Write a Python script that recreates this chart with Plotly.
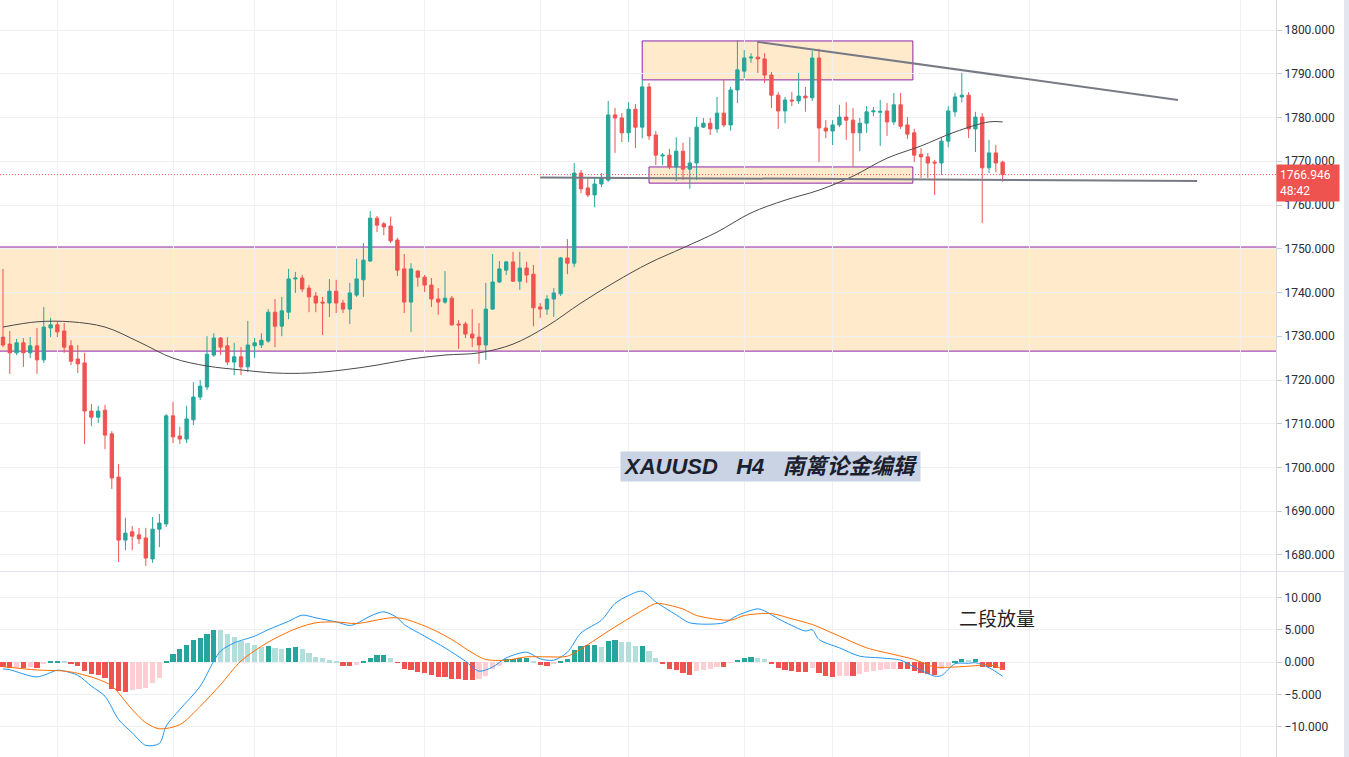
import plotly.graph_objects as go

# ---------------- data ----------------
open_ = [1729.8,1728.2,1726.2,1728.5,1726.2,1727.8,1724.6,1731.9,1732.6,1731.2,
         1727.8,1724.8,1723.9,1712.9,1711.5,1713.1,1707.7,1697.8,1683.4,1685.3,
         1684.6,1683.9,1679.1,1685.9,1687.1,1711.8,1707.2,1706.5,1710.9,1716.1,
         1718.4,1725.7,1729.6,1727.8,1724.1,1725.3,1723.0,1727.8,1728.0,1728.9,
         1735.5,1732.3,1735.5,1743.1,1743.3,1741.0,1739.2,1737.8,1737.6,1740.3,
         1737.6,1736.2,1739.4,1742.9,1747.2,1757.0,1755.7,1755.2,1752.0,1745.4,
         1737.8,1744.9,1743.5,1741.7,1738.5,1737.8,1738.7,1732.8,1732.8,1730.5,
         1729.8,1728.0,1736.2,1742.4,1745.1,1747.0,1742.6,1745.6,1744.2,1736.7,
         1736.2,1738.5,1739.7,1747.9,1746.7,1767.3,1763.9,1762.3,1764.8,1765.7,
         1780.6,1779.9,1776.5,1781.9,1777.8,1787.0,1776.0,1771.2,1771.4,1768.7,
         1772.3,1768.2,1769.6,1777.8,1778.7,1777.4,1781.0,1778.3,1786.3,1790.6,
         1793.6,1793.8,1793.4,1789.7,1785.1,1781.5,1784.0,1783.8,1784.9,1784.5,
         1793.6,1777.6,1776.9,1778.3,1780.1,1779.4,1776.5,1778.7,1781.3,1781.2,
         1781.5,1779.0,1782.9,1778.3,1776.5,1771.6,1771.0,1769.8,1769.6,1774.6,
         1781.3,1784.7,1785.1,1777.4,1780.1,1768.5,1771.9,1769.8]
high_ = [1745.4,1731.2,1729.4,1729.6,1729.8,1731.9,1736.7,1734.2,1733.3,1733.0,
         1729.1,1728.0,1726.2,1714.5,1714.1,1714.3,1708.3,1700.8,1688.5,1686.6,
         1686.2,1686.2,1688.7,1689.4,1712.2,1715.0,1709.3,1714.1,1719.5,1720.0,
         1730.0,1730.7,1729.8,1729.8,1728.5,1727.5,1733.5,1729.6,1730.7,1736.2,
         1738.5,1739.0,1745.4,1744.7,1744.0,1741.7,1740.1,1739.0,1743.1,1742.9,
         1738.3,1742.2,1747.7,1751.3,1758.6,1757.5,1756.1,1757.3,1752.5,1748.8,
         1746.7,1745.1,1744.0,1743.3,1741.0,1744.9,1739.2,1733.7,1733.3,1736.2,
         1733.0,1742.2,1748.8,1747.2,1747.2,1749.3,1749.3,1747.0,1746.3,1737.6,
         1739.4,1741.0,1748.1,1752.2,1769.6,1768.0,1766.4,1766.4,1767.3,1783.8,
         1782.2,1781.0,1783.5,1783.1,1788.6,1787.9,1776.9,1771.9,1772.8,1775.5,
         1774.2,1775.5,1780.1,1779.9,1779.9,1784.7,1788.6,1787.0,1797.7,1795.4,
         1794.7,1797.3,1794.7,1790.4,1785.8,1784.7,1785.8,1790.2,1787.0,1795.2,
         1795.7,1779.4,1779.4,1782.9,1783.5,1782.2,1779.9,1782.6,1782.4,1784.0,
         1783.3,1785.6,1785.6,1780.1,1777.4,1773.0,1771.9,1770.3,1775.5,1782.6,
         1785.6,1790.2,1785.8,1781.3,1781.0,1774.9,1773.7,1770.1]
low_ = [1727.5,1721.4,1725.7,1723.0,1725.0,1721.4,1723.9,1729.8,1729.8,1726.2,
        1723.4,1721.6,1705.4,1709.5,1710.2,1704.2,1695.1,1678.4,1681.1,1681.1,
        1682.5,1677.5,1678.2,1681.8,1686.4,1705.6,1705.4,1705.6,1709.7,1715.4,
        1717.7,1725.3,1725.7,1723.4,1721.1,1721.1,1721.8,1725.0,1727.3,1728.5,
        1727.5,1730.0,1733.9,1739.9,1740.1,1735.5,1735.5,1730.3,1734.4,1735.3,
        1735.3,1732.8,1739.0,1739.0,1747.0,1753.8,1753.1,1751.3,1743.8,1735.3,
        1731.0,1741.3,1740.1,1736.7,1734.9,1737.4,1732.4,1727.1,1729.6,1727.5,
        1723.7,1724.6,1736.0,1742.2,1744.0,1742.4,1740.6,1742.2,1732.3,1734.2,
        1734.9,1734.4,1739.2,1744.2,1745.8,1762.7,1761.8,1759.5,1764.1,1765.3,
        1771.9,1774.4,1774.4,1773.0,1775.3,1774.9,1769.1,1769.1,1768.2,1765.5,
        1765.7,1763.7,1765.7,1777.6,1776.0,1776.5,1777.8,1777.0,1783.3,1789.0,
        1792.5,1790.2,1787.9,1782.2,1777.4,1778.7,1782.6,1783.1,1781.3,1783.8,
        1769.8,1775.3,1773.7,1777.8,1774.9,1768.9,1772.3,1776.5,1780.3,1773.5,
        1775.8,1778.3,1777.4,1775.1,1769.8,1766.2,1766.2,1762.3,1766.9,1773.2,
        1780.2,1783.5,1775.3,1772.1,1755.9,1767.3,1767.5,1765.3]
close_ = [1728.0,1726.2,1728.5,1726.2,1727.8,1724.6,1732.1,1732.6,1731.0,1727.5,
          1724.3,1723.7,1712.9,1711.5,1712.9,1707.4,1697.6,1683.4,1685.0,1684.3,
          1683.7,1679.3,1685.9,1687.3,1711.8,1707.0,1706.5,1711.1,1716.1,1718.6,
          1725.9,1729.6,1727.5,1724.1,1725.3,1723.0,1728.0,1728.5,1729.1,1735.5,
          1732.3,1735.8,1743.1,1743.3,1740.8,1739.0,1737.6,1737.6,1740.3,1737.6,
          1736.2,1739.9,1743.1,1747.4,1757.0,1755.4,1755.0,1751.8,1745.1,1737.8,
          1745.4,1743.5,1741.7,1738.5,1737.8,1738.7,1732.6,1732.6,1730.5,1729.6,
          1728.0,1736.2,1742.4,1745.4,1747.0,1742.6,1745.6,1744.0,1736.5,1736.2,
          1738.5,1739.9,1747.9,1746.7,1767.3,1763.7,1762.3,1764.8,1766.2,1780.6,
          1779.9,1776.5,1781.9,1777.8,1787.0,1775.8,1771.4,1771.4,1768.7,1772.3,
          1768.2,1769.6,1777.8,1778.7,1777.4,1781.0,1778.3,1786.3,1790.9,1793.6,
          1793.8,1793.4,1789.7,1785.1,1781.5,1784.0,1783.8,1784.9,1784.5,1793.6,
          1777.6,1776.9,1778.3,1780.1,1779.4,1776.5,1778.7,1781.3,1781.5,1781.4,
          1779.0,1782.9,1778.0,1776.2,1771.4,1771.0,1769.6,1769.6,1774.6,1781.5,
          1784.7,1785.1,1777.4,1780.1,1768.5,1771.9,1769.6,1766.946]

# moving average (sampled at candle indices)
ma_idx = [0,5,10,15,20,25,30,35,40,45,50,55,60,65,70,75,80,85,90,95,
          100,105,110,115,120,125,130,135,140,145,147]
ma_val = [1732.1,1733.3,1733.3,1732.1,1728.7,1725.0,1723.2,1722.3,1721.6,1721.6,
          1722.3,1723.4,1724.8,1725.7,1726.2,1728.2,1732.3,1737.6,1742.4,1746.7,
          1750.2,1753.8,1758.2,1761.1,1763.4,1766.6,1770.7,1773.5,1776.7,1779.0,1779.0]

# MACD histogram (one value per candle)
hist = [-0.72,-0.88,-0.85,-0.98,-0.72,-0.98,-0.36,0.15,0.2,0.05,
        -0.36,-0.62,-1.4,-1.9,-2.06,-2.4,-4.2,-4.5,-4.6,-4.3,
        -4.1,-3.97,-3.2,-2.5,0.05,1.2,1.96,2.7,3.35,3.76,
        4.4,4.95,4.9,4.4,3.9,3.25,3.0,2.7,2.37,2.47,
        2.1,1.96,2.2,2.25,1.96,1.44,0.82,0.57,0.26,0.05,
        -0.62,-0.65,-0.41,0.1,0.67,1.03,1.05,0.67,-0.05,-1.13,
        -1.24,-1.55,-1.75,-2.06,-2.32,-2.34,-2.58,-2.6,-2.78,-2.8,
        -2.68,-2.16,-1.13,-0.62,0.41,0.52,0.57,0.6,0.1,-0.52,
        -0.55,-0.36,0.15,0.41,1.8,2.47,2.63,2.65,2.37,3.25,
        3.35,3.1,3.05,2.45,2.5,1.7,0.57,-0.26,-1.03,-1.24,
        -1.7,-2.0,-1.4,-1.24,-1.13,-0.72,-0.75,-0.1,0.31,0.67,
        0.82,0.67,0.41,-0.2,-0.88,-1.24,-1.4,-1.5,-1.55,-0.88,
        -1.65,-2.16,-2.32,-2.16,-2.12,-2.18,-1.9,-1.55,-1.4,-1.24,
        -1.13,-1.03,-1.06,-1.13,-1.4,-1.75,-1.9,-1.95,-1.13,-0.62,
        0.15,0.52,0.31,0.41,-0.72,-0.74,-0.88,-1.24]

# MACD line (blue) and signal (orange), sampled
macd_idx = [0,1,5,8,9,11,13,15,17,19,21,23,24,26,29,31,32,34,37,39,42,44,46,49,
            51,52,54,56,58,59,62,65,68,70,72,74,77,79,81,83,85,88,90,92,94,96,99,
            101,106,108,111,112,114,116,118,119,120,123,126,129,132,134,137,138,
            140,142,143,145,147]
macd_val = [-1.06,-1.2,-2.3,-1.27,-1.4,-2.06,-3.74,-5.3,-8.9,-10.96,-12.9,-12.6,-9.9,
            -7.35,-3.74,0.15,1.7,2.96,4.0,5.0,6.3,7.25,6.84,6.2,
            5.65,5.96,7.1,7.77,6.84,5.8,4.0,2.19,0.13,-1.42,-0.77,0.64,1.52,0.49,
            0.28,1.52,4.5,6.47,9.05,10.3,10.96,9.3,7.3,
            6.06,6.06,7.2,8.23,7.9,6.7,5.65,4.8,5.0,3.48,2.19,0.9,0.64,0.28,-0.77,
            -2.19,-2.1,-0.26,-0.2,-0.1,-0.88,-2.2]
sig_idx = [0,5,9,11,14,16,19,21,23,26,29,32,35,39,43,46,49,52,57,59,63,66,69,71,
           74,77,80,83,86,89,93,96,97,100,102,107,109,113,116,119,123,127,131,134,
           137,140,143,145,147]
sig_val = [-0.72,-1.23,-1.4,-1.75,-2.68,-3.7,-7.35,-9.4,-10.34,-9.7,-6.86,-3.5,0.15,
           3.07,5.13,6.07,6.2,5.96,6.84,6.68,5.13,3.48,1.42,0.39,
           0.28,0.8,0.8,0.9,2.7,4.77,7.35,9.05,9.0,8.2,7.2,6.47,7.2,7.5,6.68,5.8,
           4.0,2.19,1.16,0.39,-0.77,-0.77,-0.57,-0.41,-1.08]

# vertical grid positions (candle indices)
grid_idx = [8, 25, 37, 49, 62, 79, 92, 109, 122, 139, 151, 182]

# drawings (candle index / price)
band_top, band_bot = 1750.4, 1726.6
box_hi = (94.0, 133.8, 1797.5, 1788.6)
box_lo = (95.0, 133.8, 1768.7, 1765.0)
trend_hi = (110.9, 1797.3, 172.8, 1784.0)
trend_lo = (79.0, 1766.3, 175.6, 1765.5)
last_price = 1766.946

# ---------------- styling ----------------
UP, DN = "#26a69a", "#ef5350"
UP_L, DN_L = "#b2dfdb", "#ffcdd2"
GRID = "#eef0f4"
XMIN, XMAX = -0.44, 187.2
TICKFONT = dict(family="Roboto, Open Sans, sans-serif", size=12, color="#2a2e39")

idx = list(range(len(open_)))

hcol = []
prev = None
for v in hist:
    if v >= 0:
        hcol.append(UP if (prev is None or v >= prev) else UP_L)
    else:
        hcol.append(DN if (prev is None or v < prev) else DN_L)
    prev = v

fig = go.Figure()

fig.add_trace(go.Candlestick(
    x=idx, open=open_, high=high_, low=low_, close=close_,
    increasing=dict(line=dict(color=UP, width=1), fillcolor=UP),
    decreasing=dict(line=dict(color=DN, width=1), fillcolor=DN),
    whiskerwidth=0, xaxis="x", yaxis="y", hoverinfo="skip", showlegend=False))

fig.add_trace(go.Scatter(
    x=ma_idx, y=ma_val, mode="lines", xaxis="x", yaxis="y",
    line=dict(color="#4a4a4a", width=1, shape="spline", smoothing=1.0),
    hoverinfo="skip", showlegend=False))

fig.add_trace(go.Bar(
    x=idx, y=hist, marker=dict(color=hcol, line=dict(width=0)), width=0.78,
    xaxis="x", yaxis="y2", hoverinfo="skip", showlegend=False))

fig.add_trace(go.Scatter(
    x=macd_idx, y=macd_val, mode="lines", xaxis="x", yaxis="y2",
    line=dict(color="#2196f3", width=1, shape="spline", smoothing=0.8),
    hoverinfo="skip", showlegend=False))
fig.add_trace(go.Scatter(
    x=sig_idx, y=sig_val, mode="lines", xaxis="x", yaxis="y2",
    line=dict(color="#ff6d00", width=1, shape="spline", smoothing=0.8),
    hoverinfo="skip", showlegend=False))

shapes = []
ORANGE = "rgba(255,152,0,0.2)"
PURPLE = "#8e24aa"
# wide zone: fill plus top/bottom edges only
shapes.append(dict(type="rect", xref="x", yref="y", x0=XMIN, x1=XMAX,
                   y0=band_bot, y1=band_top, fillcolor=ORANGE,
                   line=dict(width=0), layer="below"))
for yv in (band_top, band_bot):
    shapes.append(dict(type="line", xref="x", yref="y", x0=XMIN, x1=XMAX,
                       y0=yv, y1=yv, line=dict(color=PURPLE, width=1), layer="below"))
for (a, b, c, d) in (box_hi, box_lo):
    shapes.append(dict(type="rect", xref="x", yref="y", x0=a, x1=b, y0=d, y1=c,
                       fillcolor=ORANGE, line=dict(color=PURPLE, width=1), layer="below"))
for (a, b, c, d) in (trend_hi, trend_lo):
    shapes.append(dict(type="line", xref="x", yref="y", x0=a, y0=b, x1=c, y1=d,
                       line=dict(color="#787b86", width=2), layer="above"))
shapes.append(dict(type="line", xref="x", yref="y", x0=XMIN, x1=XMAX,
                   y0=last_price, y1=last_price,
                   line=dict(color=DN, width=1, dash="1px,2px"), layer="above"))
# pane separator
shapes.append(dict(type="line", xref="paper", yref="paper", x0=0, x1=1349/1276,
                   y0=1-571.5/757, y1=1-571.5/757,
                   line=dict(color="#dfe2ea", width=1)))
# right edge strip
shapes.append(dict(type="rect", xref="paper", yref="paper", x0=1344/1276, x1=1349/1276,
                   y0=0, y1=1, fillcolor="#e3e6ee", line=dict(width=0)))

annotations = [
    dict(xref="x", yref="y", x=112.9, y=1700.3,
         text="<b><i>XAUUSD\u00a0\u00a0\u00a0H4\u00a0\u00a0\u00a0南篱论金编辑</i></b>",
         showarrow=False, bgcolor="#c9d3e4", borderpad=2,
         font=dict(family="Liberation Sans, Noto Sans CJK SC", size=22, color="#1b1f2e")),
    dict(xref="x", yref="y2", x=146.2, y=6.9, text="二段放量", showarrow=False,
         font=dict(family="Noto Sans CJK SC", size=19, color="#222222")),
    dict(xref="paper", yref="y", x=1.0, xanchor="left", y=1765.0, yanchor="middle",
         text="1766.946<br>48:42", showarrow=False, align="left", bgcolor=DN,
         borderpad=3, width=56,
         font=dict(family="Roboto, Open Sans, sans-serif", size=12, color="white")),
]

fig.update_layout(
    width=1349, height=757, margin=dict(l=0, r=73, t=0, b=0),
    paper_bgcolor="white", plot_bgcolor="white", showlegend=False,
    bargap=0, shapes=shapes, annotations=annotations,
    xaxis=dict(range=[XMIN, XMAX], anchor="y2", showticklabels=False,
               tickmode="array", tickvals=grid_idx, ticks="",
               showgrid=True, gridcolor=GRID, gridwidth=1, zeroline=False,
               showline=False, rangeslider=dict(visible=False), fixedrange=True),
    yaxis=dict(domain=[1-571/757, 1], range=[1676.34, 1806.86], side="right",
               anchor="x", tick0=0, dtick=10, tickformat=".3f",
               showgrid=True, gridcolor=GRID, zeroline=False,
               ticks="outside", ticklen=5, tickcolor="#c9ccd4",
               showline=True, linecolor="#d6d9e0", linewidth=1,
               tickfont=TICKFONT, automargin=False, fixedrange=True),
    yaxis2=dict(domain=[0, 1-572/757], range=[-14.7, 13.93], side="right",
                anchor="x", tick0=0, dtick=5, tickformat=".3f",
                showgrid=True, gridcolor=GRID, zeroline=False,
                ticks="outside", ticklen=5, tickcolor="#c9ccd4",
                showline=True, linecolor="#d6d9e0", linewidth=1,
                tickfont=TICKFONT, automargin=False, fixedrange=True),
)

fig.write_html("out.html", config=dict(displayModeBar=False),
               post_script="document.body.style.margin='0';document.body.style.overflow='hidden';")
